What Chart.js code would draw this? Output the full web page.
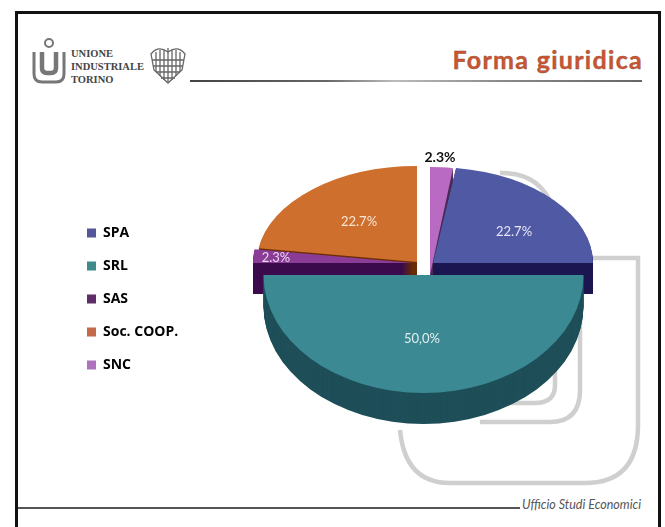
<!DOCTYPE html>
<html>
<head>
<meta charset="utf-8">
<title>Forma giuridica</title>
<script src="https://cdn.jsdelivr.net/npm/chart.js@4"></script>
<style>
  html, body { margin: 0; padding: 0; background: #fff; }
  #slide { position: relative; width: 665px; height: 527px; overflow: hidden; font-family: Lato, "Open Sans", sans-serif; }
  #frame { position: absolute; left: 15px; top: 11px; width: 640px; height: 530px; border: 3px solid #111; box-sizing: content-box; }
  #deco { position: absolute; left: 0; top: 0; }
  #pie { position: absolute; left: 0; top: 0; }
  .logo { position: absolute; left: 71px; top: 47px; font: bold 10.5px/13px "Liberation Serif", serif; color: #444; }
  .title { position: absolute; right: 22px; top: 44px; font: bold 25px Lato, sans-serif; letter-spacing: 1.3px; white-space: nowrap; color: #cf5330; -webkit-text-stroke: .4px #8a5a40; }
  .foot { position: absolute; left: 522px; top: 497px; font: italic 12.5px Lato, sans-serif; color: #555; white-space: nowrap; }
</style>
</head>
<body>
<div id="slide">
  <svg id="deco" width="665" height="527" fill="none">
    <defs>
      <linearGradient id="rule"><stop offset="0" stop-color="#444"/><stop offset=".3" stop-color="#666"/><stop offset=".45" stop-color="#bbb"/><stop offset=".7" stop-color="#888"/><stop offset="1" stop-color="#666"/></linearGradient>
    </defs>
    <!-- watermark -->
    <g stroke="#cfcfcf" stroke-width="4.5">
      <path d="M592 258 H638 V425 Q638 483 585 483 H450 Q405 483 400 430"/>
      <path d="M500 173 Q538 172 552 205"/>
      <path d="M580 300 V390 Q580 422 550 422 H480"/>
      <path d="M555 340 V385 Q555 403 535 403 H505"/>
    </g>
    <!-- header and footer rules -->
    <rect x="190" y="80" width="452" height="2" fill="url(#rule)"/>
    <rect x="18" y="507" width="502" height="2" fill="#555"/>
    <!-- logo mark -->
    <g stroke="#777">
      <circle cx="49" cy="43" r="4" stroke-width="2"/>
      <path d="M34 52 V74 Q34 82 42 82 H56 Q64 82 64 74 V52" stroke-width="3"/>
      <path d="M42 52 V68 Q42 73 47 73 H51 Q56 73 56 68 V52" stroke-width="4.5"/>
    </g>
    <g stroke="#666" stroke-width="1.3">
      <path d="M151 54 Q158 45 168 52 Q178 45 185 54 L182 70 L168 83 L154 70 Z"/>
      <path d="M156 52 V72 M160 50 V76 M164 50 V80 M168 48 V82 M172 50 V80 M176 50 V76 M180 52 V72 M152 60 H184 M153 66 H183 M156 72 H180 M161 78 H175"/>
    </g>
  </svg>
  <div id="frame"></div>
  <div class="logo">UNIONE<br>INDUSTRIALE<br>TORINO</div>
  <div class="title">Forma giuridica</div>
  <div class="foot">Ufficio Studi Economici</div>
  <canvas id="pie" width="665" height="527"></canvas>
</div>
<script>
  const categories = ["SPA", "SRL", "SAS", "Soc. COOP.", "SNC"];
  const shares = [22.7, 50.0, 2.3, 22.7, 2.3];
  const valueLabels = ["22.7%", "50,0%", "2.3%", "22.7%", "2.3%"];

  const faceColors = ["#5059a3", "#3b8a93", "#8a3c96", "#cf6f2d", "#b96ac2"];
  const wallColors = ["#1b1650", "#1e4f59", "#3a0a4c", "#6a2e06", "#4d2a55"];
  const legendColors = ["#55569a", "#3f8b8c", "#5e2c66", "#c4694a", "#ad74bd"];

  // pseudo 3D look: each wedge gets its own shift and squash, back to front
  const pieCenter = { x: 424, y: 265 };
  const sliceShift = [[9, -2], [-0.5, 10], [-11, -2], [-7, -3], [6, 10]];
  const sliceSquash = [0.6, 0.7375, 0.6, 0.6, 0.675];
  const drawOrder = [4, 3, 0, 2, 1];
  const wallDepth = 31;
  const labelAt = [[514, 232], [422, 339], [276, 258], [359, 222], [440, 157]];
  const labelColors = ["#e6e6f5", "#e4eef0", "#ecd8f0", "#f8e6d4", "#111"];

  function withSlice(ctx, arc, i, drop, fn) {
    ctx.save();
    ctx.translate(pieCenter.x + sliceShift[i][0], pieCenter.y + sliceShift[i][1] + drop);
    ctx.scale(1, sliceSquash[i]);
    ctx.translate(-arc.x, -arc.y);
    fn();
    ctx.restore();
  }

  const pie3d = {
    id: "pie3d",
    beforeDatasetDraw(chart) {
      const ctx = chart.ctx;
      const arcs = chart.getDatasetMeta(0).data;
      drawOrder.forEach((i) => {
        const arc = arcs[i];
        // side wall: same wedge repeated downward
        for (let d = wallDepth; d > 0; d--) {
          withSlice(ctx, arc, i, d, () => {
            ctx.beginPath();
            ctx.moveTo(arc.x, arc.y);
            ctx.arc(arc.x, arc.y, arc.outerRadius, arc.startAngle, arc.endAngle);
            ctx.closePath();
            ctx.fillStyle = wallColors[i];
            ctx.fill();
          });
        }
        withSlice(ctx, arc, i, 0, () => arc.draw(ctx));
      });
      return false;
    },
    afterDraw(chart) {
      const ctx = chart.ctx;
      ctx.save();
      ctx.textAlign = "center";
      ctx.textBaseline = "middle";
      valueLabels.forEach((t, i) => {
        ctx.font = i === 4 ? "bold 14px Lato" : "13px Lato";
        ctx.fillStyle = labelColors[i];
        ctx.fillText(t, labelAt[i][0], labelAt[i][1]);
      });
      ctx.restore();
    },
  };

  new Chart(document.getElementById("pie"), {
    type: "pie",
    data: {
      labels: categories,
      datasets: [{ data: shares, backgroundColor: faceColors, borderWidth: 0 }],
    },
    options: {
      responsive: false,
      animation: false,
      radius: 160,
      rotation: 8.28,
      layout: { padding: { left: 68, top: 71 } },
      plugins: {
        tooltip: { enabled: false },
        legend: {
          position: "left",
          labels: {
            boxWidth: 9,
            boxHeight: 9,
            padding: 19,
            color: "#3a3a55",
            font: { family: "Open Sans", size: 14, weight: "bold" },
            generateLabels: () =>
              categories.map((c, i) => ({ text: c, fillStyle: legendColors[i], strokeStyle: legendColors[i], lineWidth: 0, index: i })),
          },
        },
      },
    },
    plugins: [pie3d],
  });
</script>
</body>
</html>
